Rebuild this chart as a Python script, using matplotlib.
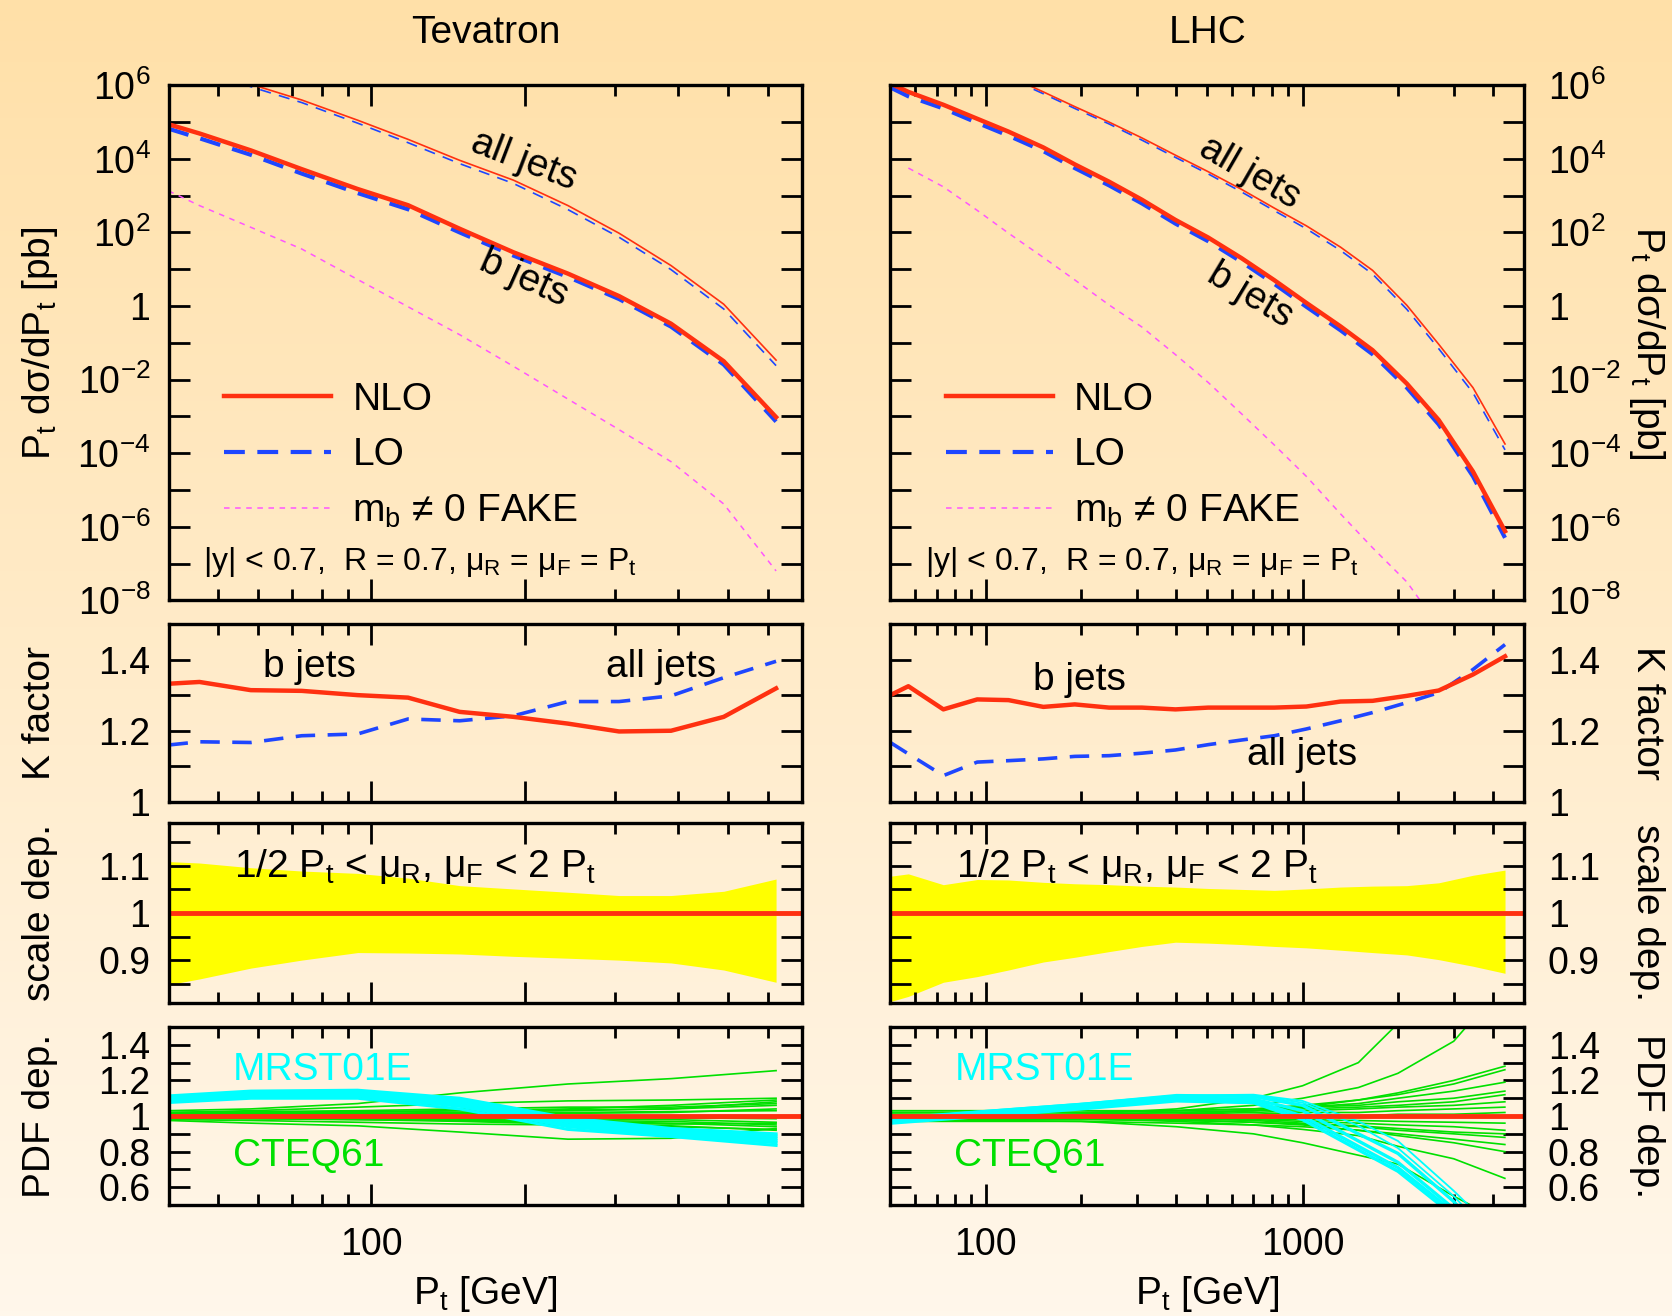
import numpy as np
import matplotlib
matplotlib.use("Agg")
import matplotlib.pyplot as plt
from matplotlib.colors import LinearSegmentedColormap
from matplotlib.ticker import FixedLocator, FixedFormatter, NullFormatter

plt.rcParams['font.family'] = ['Liberation Sans', 'DejaVu Sans']
plt.rcParams['mathtext.default'] = 'regular'
plt.rcParams['lines.scale_dashes'] = False

# ---------------- data ----------------
# Tevatron
tev_pt = [40, 46, 58, 73, 94, 118, 149, 190, 243, 306, 387, 491, 622]
# cross sections as log10(pb)
tev_b_nlo = [4.94, 4.69, 4.23, 3.72, 3.18, 2.74, 2.10, 1.46, 0.88, 0.27, -0.48, -1.50, -3.02]
tev_b_lo = [4.82, 4.56, 4.11, 3.60, 3.07, 2.63, 2.00, 1.37, 0.79, 0.19, -0.56, -1.59, -3.14]
tev_all_nlo = [6.80, 6.60, 6.03, 5.60, 5.05, 4.53, 3.96, 3.42, 2.73, 1.98, 1.10, 0.05, -1.47]
tev_all_lo = [6.74, 6.53, 5.96, 5.53, 4.97, 4.44, 3.87, 3.33, 2.62, 1.87, 0.99, -0.08, -1.62]
tev_fake = [3.13, 2.73, 2.14, 1.55, 0.72, -0.02, -0.78, -1.64, -2.53, -3.36, -4.23, -5.38, -7.20]
tev_k_b = [1.332, 1.337, 1.314, 1.312, 1.300, 1.293, 1.253, 1.239, 1.220, 1.198, 1.200, 1.239, 1.319]
tev_k_all = [1.160, 1.169, 1.167, 1.186, 1.191, 1.233, 1.228, 1.242, 1.282, 1.282, 1.298, 1.349, 1.395]
tev_scale_up = [1.109, 1.106, 1.096, 1.089, 1.084, 1.074, 1.058, 1.051, 1.044, 1.037, 1.037, 1.046, 1.072]
tev_scale_dn = [0.848, 0.860, 0.883, 0.900, 0.916, 0.915, 0.913, 0.908, 0.904, 0.900, 0.894, 0.879, 0.853]

tev_pdf_pt = [40, 58, 94, 149, 243, 387, 622]
tev_cteq = [
    [1.03, 1.04, 1.07, 1.13, 1.18, 1.21, 1.255],
    [1.02, 1.03, 1.05, 1.07, 1.085, 1.09, 1.10],
    [0.975, 0.96, 0.945, 0.91, 0.87, 0.875, 0.93],
    [0.98, 0.975, 0.965, 0.955, 0.95, 0.945, 0.92],
    [1.01, 1.01, 1.015, 1.02, 1.03, 1.04, 1.08],
    [1.015, 1.02, 1.025, 1.03, 1.035, 1.04, 1.06],
    [0.99, 0.99, 0.985, 0.98, 0.975, 0.97, 0.95],
    [1.0, 1.0, 1.005, 1.01, 1.015, 1.02, 1.04],
    [0.995, 0.995, 0.99, 0.985, 0.985, 0.98, 0.965],
    [1.005, 1.01, 1.01, 1.015, 1.02, 1.025, 1.03],
    [0.985, 0.985, 0.98, 0.975, 0.97, 0.96, 0.94],
    [1.0, 0.995, 0.995, 0.99, 0.99, 0.99, 0.985],
    [1.02, 1.025, 1.03, 1.04, 1.05, 1.05, 1.07],
    [0.99, 0.985, 0.98, 0.97, 0.955, 0.94, 0.925],
    [1.01, 1.015, 1.02, 1.03, 1.04, 1.06, 1.09],
    [0.995, 0.99, 0.985, 0.975, 0.96, 0.955, 0.96],
]
tev_mrst = [
    [1.113, 1.14, 1.145, 1.10, 0.99, 0.93, 0.90],
    [1.107, 1.133, 1.137, 1.09, 0.978, 0.918, 0.888],
    [1.100, 1.125, 1.128, 1.078, 0.965, 0.91, 0.875],
    [1.093, 1.117, 1.12, 1.066, 0.952, 0.902, 0.862],
    [1.085, 1.11, 1.112, 1.055, 0.94, 0.895, 0.85],
    [1.076, 1.10, 1.10, 1.04, 0.925, 0.885, 0.835],
]

# LHC
lhc_pt = [50, 57, 73.5, 94, 118, 152, 191, 245, 311, 397, 504, 642, 815, 1028,
          1318, 1663, 2134, 2690, 3451, 4355]
lhc_b_nlo = [6.05, 5.82, 5.47, 5.09, 4.74, 4.31, 3.85, 3.38, 2.89, 2.34, 1.86, 1.30,
             0.70, 0.085, -0.555, -1.20, -2.11, -3.10, -4.50, -6.12]
lhc_b_lo = [5.94, 5.70, 5.37, 4.98, 4.63, 4.21, 3.75, 3.28, 2.79, 2.24, 1.76, 1.20,
            0.60, -0.02, -0.66, -1.31, -2.22, -3.22, -4.63, -6.30]
lhc_all_nlo = [7.60, 7.40, 7.00, 6.60, 6.25, 5.82, 5.42, 5.00, 4.57, 4.10, 3.65, 3.17,
               2.66, 2.18, 1.60, 0.97, 0.02, -1.04, -2.22, -3.75]
lhc_all_lo = [7.53, 7.35, 6.97, 6.55, 6.20, 5.77, 5.37, 4.95, 4.51, 4.04, 3.59, 3.10,
              2.59, 2.10, 1.51, 0.87, -0.09, -1.16, -2.36, -3.91]
lhc_fake_pt = lhc_pt[1:]
lhc_fake = [3.75, 3.24, 2.60, 1.98, 1.32, 0.71, 0.03, -0.57, -1.32, -2.08, -2.93,
            -3.78, -4.63, -5.65, -6.57, -7.50, -8.70, -10.0, -11.5]
lhc_k_b = [1.300, 1.325, 1.260, 1.288, 1.286, 1.267, 1.274, 1.265, 1.265, 1.260, 1.265,
           1.265, 1.265, 1.268, 1.282, 1.284, 1.298, 1.313, 1.358, 1.409]
lhc_k_all = [1.167, 1.135, 1.074, 1.112, 1.116, 1.121, 1.128, 1.130, 1.137, 1.146, 1.161,
             1.174, 1.186, 1.205, 1.228, 1.251, 1.279, 1.307, 1.372, 1.442]
lhc_scale_up = [1.078, 1.083, 1.060, 1.071, 1.070, 1.065, 1.062, 1.060, 1.057, 1.055, 1.052,
                1.050, 1.048, 1.051, 1.055, 1.057, 1.058, 1.064, 1.080, 1.091]
lhc_scale_dn = [0.812, 0.823, 0.853, 0.865, 0.879, 0.896, 0.906, 0.918, 0.929, 0.938, 0.936,
                0.933, 0.929, 0.926, 0.921, 0.916, 0.911, 0.901, 0.887, 0.872]

lhc_pdf_pt = [50, 100, 200, 400, 700, 1000, 1500, 2000, 3000, 4350]
lhc_cteq = [
    [1.00, 1.00, 1.01, 1.04, 1.10, 1.17, 1.30, 1.52, 2.0, 2.8],
    [1.02, 1.02, 1.02, 1.03, 1.06, 1.10, 1.16, 1.24, 1.42, 1.75],
    [1.00, 1.00, 1.00, 1.01, 1.03, 1.05, 1.09, 1.13, 1.20, 1.28],
    [1.02, 1.02, 1.02, 1.03, 1.04, 1.06, 1.09, 1.12, 1.18, 1.26],
    [1.00, 1.00, 1.01, 1.02, 1.03, 1.05, 1.07, 1.10, 1.14, 1.19],
    [1.03, 1.03, 1.03, 1.03, 1.04, 1.05, 1.06, 1.08, 1.10, 1.14],
    [1.01, 1.01, 1.01, 1.02, 1.03, 1.04, 1.05, 1.06, 1.08, 1.12],
    [0.99, 0.99, 1.00, 1.01, 1.02, 1.03, 1.04, 1.05, 1.06, 1.08],
    [1.00, 1.00, 1.00, 1.00, 1.01, 1.02, 1.02, 1.03, 1.04, 1.05],
    [1.00, 1.00, 1.00, 1.00, 1.00, 1.00, 1.00, 1.01, 1.01, 1.02],
    [1.00, 1.00, 0.995, 0.99, 0.985, 0.98, 0.975, 0.97, 0.965, 0.96],
    [0.99, 0.99, 0.99, 0.985, 0.98, 0.97, 0.96, 0.95, 0.94, 0.92],
    [1.01, 1.00, 0.995, 0.985, 0.975, 0.96, 0.945, 0.93, 0.91, 0.90],
    [0.98, 0.98, 0.98, 0.975, 0.965, 0.955, 0.94, 0.92, 0.90, 0.88],
    [1.00, 1.00, 0.99, 0.98, 0.965, 0.95, 0.92, 0.89, 0.85, 0.80],
    [0.99, 0.99, 0.985, 0.97, 0.95, 0.925, 0.89, 0.83, 0.76, 0.65],
    [0.975, 0.975, 0.97, 0.94, 0.90, 0.85, 0.78, 0.73, 0.55, 0.40],
    [0.97, 0.97, 0.97, 0.96, 0.95, 0.94, 0.92, 0.90, 0.87, 0.84],
]
lhc_mrst = [
    [0.99, 1.03, 1.07, 1.115, 1.12, 1.085, 0.97, 0.86, 0.58, 0.3],
    [0.985, 1.025, 1.065, 1.11, 1.115, 1.075, 0.945, 0.82, 0.55, 0.25],
    [0.98, 1.025, 1.065, 1.115, 1.11, 1.06, 0.90, 0.79, 0.52, 0.2],
    [0.975, 1.015, 1.055, 1.10, 1.095, 1.03, 0.86, 0.74, 0.48, 0.15],
    [0.965, 1.005, 1.05, 1.09, 1.085, 1.00, 0.83, 0.71, 0.46, 0.1],
    [0.96, 1.0, 1.04, 1.085, 1.075, 0.98, 0.81, 0.69, 0.44, 0.1],
]
lhc_mrst_lw = [1.3, 1.3, 2.4, 2.4, 2.4, 2.4]

ref = 1.0

red = '#FF3010'
blue = '#1E46FF'
mag = '#FF55FF'
green = '#00E000'
cyan = '#00FFFF'
yellow = '#FFFF00'

# ---------------- figure ----------------
fig = plt.figure(figsize=(16.72, 13.16), dpi=100)
bg = fig.add_axes([0, 0, 1, 1], zorder=-10)
cmap = LinearSegmentedColormap.from_list('bg', ['#FFF7EB', '#FFE0A8'])
bg.imshow(np.linspace(0, 1, 256)[:, None], aspect='auto', cmap=cmap,
          origin='lower', extent=[0, 1, 0, 1])
bg.axis('off')

col_x = [0.1008, 0.5325]
col_w = 0.3790
rows = [(0.5438, 0.3914), (0.3906, 0.1353), (0.2382, 0.1361), (0.0843, 0.1353)]

TICK = 27
TXT = 28


def style(ax, side, xmaj, xmin, xlab):
    ax.set_facecolor('none')
    for s in ax.spines.values():
        s.set_linewidth(2.4)
    ax.set_xscale('log')
    ax.xaxis.set_major_locator(FixedLocator(xmaj))
    ax.xaxis.set_minor_locator(FixedLocator(xmin))
    ax.xaxis.set_major_formatter(FixedFormatter(xlab))
    ax.xaxis.set_minor_formatter(NullFormatter())
    ax.tick_params(which='both', direction='in', top=True, bottom=True,
                   left=True, right=True, width=2.0, labelsize=TICK)
    ax.tick_params(which='major', length=15)
    ax.tick_params(axis='x', which='minor', length=8)
    ax.tick_params(axis='y', which='minor', length=15)
    ax.tick_params(axis='x', pad=16)
    if side == 'left':
        ax.tick_params(axis='y', pad=13)
    else:
        ax.tick_params(axis='y', labelleft=False, labelright=True, pad=17)


cols = [
    dict(name='Tevatron', side='left', xlim=(40, 700), xmaj=[100, 200], xlab=['100', ''],
         xmin=[50, 60, 70, 80, 90, 300, 400, 500, 600, 700],
         pt=tev_pt, b_nlo=tev_b_nlo, b_lo=tev_b_lo, all_nlo=tev_all_nlo, all_lo=tev_all_lo,
         fake_pt=tev_pt, fake=tev_fake, k_b=tev_k_b, k_all=tev_k_all,
         up=tev_scale_up, dn=tev_scale_dn, pdf_pt=tev_pdf_pt, cteq=tev_cteq, mrst=tev_mrst,
         mrst_lw=[2.2] * len(tev_mrst),
         allpos=(0.560, 0.854, -21), bpos=(0.560, 0.625, -24),
         kb=(0.222, 0.76), kall=(0.778, 0.76)),
    dict(name='LHC', side='right', xlim=(50, 5000), xmaj=[100, 1000], xlab=['100', '1000'],
         xmin=[60, 70, 80, 90, 200, 300, 400, 500, 600, 700, 800, 900, 2000, 3000, 4000, 5000],
         pt=lhc_pt, b_nlo=lhc_b_nlo, b_lo=lhc_b_lo, all_nlo=lhc_all_nlo, all_lo=lhc_all_lo,
         fake_pt=lhc_fake_pt, fake=lhc_fake, k_b=lhc_k_b, k_all=lhc_k_all,
         up=lhc_scale_up, dn=lhc_scale_dn, pdf_pt=lhc_pdf_pt, cteq=lhc_cteq, mrst=lhc_mrst,
         mrst_lw=lhc_mrst_lw,
         allpos=(0.567, 0.829, -30), bpos=(0.567, 0.592, -31),
         kb=(0.299, 0.683), kall=(0.650, 0.263)),
]

decades = list(range(-8, 7))
dec_labels = []
for k in decades:
    if k % 2:
        dec_labels.append('')
    elif k == 0:
        dec_labels.append('1')
    else:
        dec_labels.append('10$^{%d}$' % k)

for ci, c in enumerate(cols):
    x0 = col_x[ci]
    axs = [fig.add_axes([x0, b, col_w, h]) for b, h in rows]
    for ax in axs:
        style(ax, c['side'], c['xmaj'], c['xmin'], c['xlab'])
        ax.set_xlim(*c['xlim'])
    for ax in axs[:3]:
        ax.tick_params(axis='x', labelbottom=False)

    # --- cross sections
    ax = axs[0]
    pt = np.array(c['pt'])
    ax.plot(pt, 10.0 ** np.array(c['all_lo']), color=blue, lw=1.2, ls=(0, (8, 6)))
    ax.plot(pt, 10.0 ** np.array(c['all_nlo']), color=red, lw=1.2)
    ax.plot(np.array(c['fake_pt']), 10.0 ** np.array(c['fake']), color=mag, lw=1.1,
            ls=(0, (4, 4)), label='m$_b$ ≠ 0 FAKE')
    ax.plot(pt, 10.0 ** np.array(c['b_lo']), color=blue, lw=3.0, ls=(0, (15, 9)), label='LO')
    ax.plot(pt, 10.0 ** np.array(c['b_nlo']), color=red, lw=3.2, label='NLO')
    ax.set_yscale('log')
    ax.set_ylim(1e-8, 1e6)
    ax.yaxis.set_major_locator(FixedLocator([10.0 ** k for k in decades]))
    ax.yaxis.set_major_formatter(FixedFormatter(dec_labels))
    ax.yaxis.set_minor_locator(FixedLocator([]))
    h, l = ax.get_legend_handles_labels()
    order = [2, 1, 0]
    ax.legend([h[i] for i in order], [l[i] for i in order], loc='upper left',
              bbox_to_anchor=(0.0876, 0.424), frameon=False, fontsize=TXT,
              handlelength=2.75, handletextpad=0.55, labelspacing=0.5,
              borderpad=0, borderaxespad=0)
    ax.text(c['allpos'][0], c['allpos'][1], 'all jets', rotation=c['allpos'][2],
            transform=ax.transAxes, ha='center', va='center', fontsize=TXT)
    ax.text(c['bpos'][0], c['bpos'][1], 'b jets', rotation=c['bpos'][2],
            transform=ax.transAxes, ha='center', va='center', fontsize=TXT)
    ax.text(0.054, 0.058, '|y| < 0.7,  R = 0.7, μ$_R$ = μ$_F$ = P$_t$',
            transform=ax.transAxes, ha='left', va='baseline', fontsize=23)

    # --- K factor
    ax = axs[1]
    ax.plot(pt, c['k_all'], color=blue, lw=2.6, ls=(0, (14, 9)))
    ax.plot(pt, c['k_b'], color=red, lw=3.2)
    ax.set_ylim(1.0, 1.5)
    ax.yaxis.set_major_locator(FixedLocator([1.0, 1.2, 1.4]))
    ax.yaxis.set_major_formatter(FixedFormatter(['1', '1.2', '1.4']))
    ax.yaxis.set_minor_locator(FixedLocator([1.1, 1.3]))
    ax.text(c['kb'][0], c['kb'][1], 'b jets', transform=ax.transAxes,
            ha='center', va='center', fontsize=TXT)
    ax.text(c['kall'][0], c['kall'][1], 'all jets', transform=ax.transAxes,
            ha='center', va='center', fontsize=TXT)

    # --- scale dependence
    ax = axs[2]
    ax.fill_between(pt, c['dn'], c['up'], color=yellow, lw=0)
    ax.axhline(ref, color=red, lw=3.5)
    ax.set_ylim(0.81, 1.19)
    ax.yaxis.set_major_locator(FixedLocator([0.9, 1.0, 1.1]))
    ax.yaxis.set_major_formatter(FixedFormatter(['0.9', '1', '1.1']))
    ax.yaxis.set_minor_locator(FixedLocator([0.85, 0.95, 1.05, 1.15]))
    ax.text(0.104, 0.70, '1/2 P$_t$ < μ$_R$, μ$_F$ < 2 P$_t$', transform=ax.transAxes,
            ha='left', va='baseline', fontsize=TXT)

    # --- PDF dependence
    ax = axs[3]
    for line in c['cteq']:
        ax.plot(c['pdf_pt'], line, color=green, lw=1.2)
    for line, lw in zip(c['mrst'], c['mrst_lw']):
        ax.plot(c['pdf_pt'], line, color=cyan, lw=lw)
    ax.axhline(ref, color=red, lw=3.5)
    ax.set_ylim(0.5, 1.5)
    ax.yaxis.set_major_locator(FixedLocator([0.6, 0.8, 1.0, 1.2, 1.4]))
    ax.yaxis.set_major_formatter(FixedFormatter(['0.6', '0.8', '1', '1.2', '1.4']))
    ax.yaxis.set_minor_locator(FixedLocator([0.7, 0.9, 1.1, 1.3]))
    ax.text(0.101, 0.70, 'MRST01E', color=cyan, transform=ax.transAxes,
            ha='left', va='baseline', fontsize=TXT)
    ax.text(0.101, 0.22, 'CTEQ61', color=green, transform=ax.transAxes,
            ha='left', va='baseline', fontsize=TXT)

    # titles and axis labels
    xc = x0 + col_w / 2
    fig.text(xc, 0.9676, c['name'], ha='center', va='baseline', fontsize=TXT)
    fig.text(xc, 0.017, 'P$_t$ [GeV]', ha='center', va='center', fontsize=TXT)
    ylabs = ['P$_t$ dσ/dP$_t$ [pb]', 'K factor', 'scale dep.', 'PDF dep.']
    for (b, h), lab in zip(rows, ylabs):
        if c['side'] == 'left':
            fig.text(0.0242, b + h / 2, lab, rotation=90, ha='center', va='center', fontsize=TXT)
        else:
            fig.text(0.9853, b + h / 2, lab, rotation=270, ha='center', va='center', fontsize=TXT)

fig.savefig('out.png', dpi=100)
